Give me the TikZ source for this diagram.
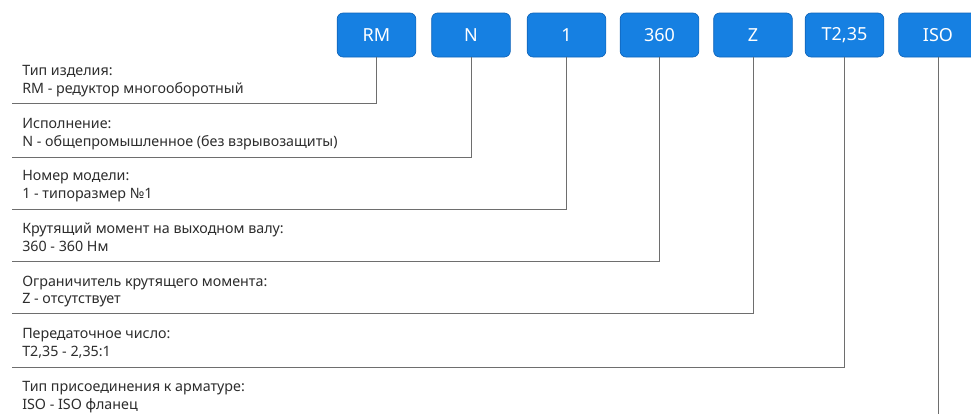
\documentclass[tikz,border=0pt]{standalone}
\usepackage{fontspec}
\setmainfont{Noto Sans}
\definecolor{boxblue}{RGB}{22,128,226}
\definecolor{boxedge}{RGB}{16,100,185}
\definecolor{txt}{RGB}{45,45,45}
\definecolor{ln}{RGB}{110,110,110}
\tikzset{
  codebox/.style={draw=boxedge, line width=0.5pt, fill=boxblue, rounded corners=4.5pt,
    minimum width=59pt, minimum height=33pt, inner sep=0pt, text=white,
    font=\fontsize{13.5pt}{14pt}\selectfont},
  desc/.style={anchor=base west, text=txt, inner sep=0pt,
    font=\fontsize{10.7pt}{12pt}\selectfont},
  leader/.style={draw=ln, line width=0.75pt}
}
\begin{document}
\begin{tikzpicture}[x=0.75pt,y=-0.75pt]
\useasboundingbox (0,0) rectangle (971,414);
\begin{scope}
\clip (0,0) rectangle (971,414);
\node[codebox] (rm)  at (376.5,35) {RM};
\node[codebox] (n)   at (471,35) {N};
\node[codebox] (one) at (566.5,35) {1};
\node[codebox] (t360) at (659.5,35) {360};
\node[codebox] (z)   at (753,35) {Z};
\node[codebox] (t235) at (844.5,35) {T2,35};
\node[codebox] (iso) at (938,35) {ISO};
\end{scope}

\coordinate (c1) at (12,103);
\coordinate (c2) at (12,157);
\coordinate (c3) at (12,209);
\coordinate (c4) at (12,261);
\coordinate (c5) at (12,313);
\coordinate (c6) at (12,367);
\coordinate (c7) at (938,414);

\draw[leader] (rm.south) |- (c1);
\draw[leader] (n.south) |- (c2);
\draw[leader] (one.south) |- (c3);
\draw[leader] (t360.south) |- (c4);
\draw[leader] (z.south) |- (c5);
\draw[leader] (t235.south) |- (c6);
\draw[leader] (iso.south) -- (c7);

\node[desc] (h1) at (22,75.7) {Тип изделия:};
\node[desc] (v1) at (22,93.5) {RM - редуктор многооборотный};
\node[desc] (h2) at (22,128.3) {Исполнение:};
\node[desc] (v2) at (22,146) {N - общепромышленное (без взрывозащиты)};
\node[desc] (h3) at (22,180.9) {Номер модели:};
\node[desc] (v3) at (22,198.6) {1 - типоразмер №1};
\node[desc] (h4) at (22,233.5) {Крутящий момент на выходном валу:};
\node[desc] (v4) at (22,251.2) {360 - 360 Нм};
\node[desc] (h5) at (22,286.1) {Ограничитель крутящего момента:};
\node[desc] (v5) at (22,303.8) {Z - отсутствует};
\node[desc] (h6) at (22,338.7) {Передаточное число:};
\node[desc] (v6) at (22,356.4) {T2,35 - 2,35:1};
\node[desc] (h7) at (22,391.8) {Тип присоединения к арматуре:};
\node[desc] (v7) at (22,409.5) {ISO - ISO фланец};
\end{tikzpicture}
\end{document}
